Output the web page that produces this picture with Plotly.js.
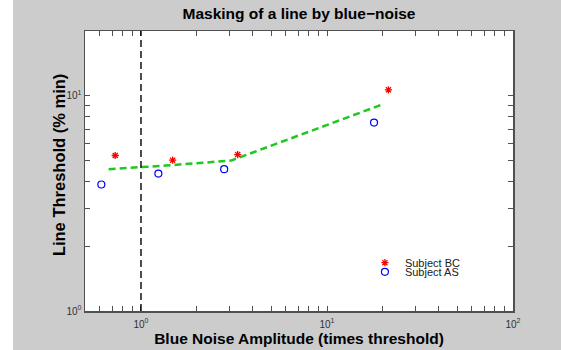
<!DOCTYPE html>
<html>
<head>
<meta charset="utf-8">
<script src="https://cdn.plot.ly/plotly-3.0.1.min.js"></script>
<style>
  html, body { margin: 0; padding: 0; background: #ffffff; }
  #chart { position: absolute; left: 13px; top: 0; width: 548px; height: 350px; }
</style>
</head>
<body>
<div id="chart"></div>
<script>
// ---- data ----
const bcX = [0.727, 1.48, 3.31, 21.4];     // Subject BC noise amplitude
const bcY = [5.28, 5.02, 5.33, 10.66];     // Subject BC line threshold
const asX = [0.612, 1.24, 2.80, 17.9];     // Subject AS noise amplitude
const asY = [3.87, 4.35, 4.56, 7.51];      // Subject AS line threshold
const fitX = [0.67, 1.36, 3.05, 19.6];     // fitted curve (mean amplitude)
const fitY = [4.56, 4.74, 5.00, 9.08];     // fitted threshold
const refX = 1;                            // detection threshold reference line

const xTickVals = [0.5,0.6,0.7,0.8,0.9,1,2,3,4,5,6,7,8,9,10,20,30,40,50,60,70,80,90,100];
const yTickVals = [1,2,3,4,5,6,7,8,9,10,20];
const decadeLabel = v => {
  const e = Math.round(Math.log10(v));
  return Math.abs(Math.log10(v) - e) < 1e-9 ? '10<sup>' + e + '</sup>' : '';
};

const FONT = 'Liberation Sans, Arial, Helvetica, sans-serif';

const traces = [
  {
    x: fitX, y: fitY, type: 'scatter', mode: 'lines',
    line: { color: '#1ec81e', width: 2.5, dash: '7px,4px' },
    showlegend: false, hoverinfo: 'skip'
  },
  {
    x: bcX, y: bcY, type: 'scatter', mode: 'markers', name: 'Subject BC',
    marker: { symbol: 'asterisk-open', size: 6, color: '#ff0000', line: { color: '#ff0000', width: 1.3 } },
    legend: 'legend'
  },
  {
    x: asX, y: asY, type: 'scatter', mode: 'markers', name: 'Subject AS',
    marker: { symbol: 'circle-open', size: 7, color: '#0000ff', line: { color: '#0000ff', width: 1.2 } },
    legend: 'legend2'
  }
];

const axisCommon = {
  type: 'log',
  showgrid: false, zeroline: false,
  showline: true, linecolor: '#505050', linewidth: 1.5,
  mirror: 'ticks', ticks: 'inside', ticklen: 5, tickwidth: 1, tickcolor: '#505050',
  tickfont: { family: FONT, size: 10, color: '#303030' }
};

const layout = {
  width: 548, height: 350,
  paper_bgcolor: '#cccccc', plot_bgcolor: '#ffffff',
  margin: { l: 72, r: 48, t: 31, b: 39 },
  title: {
    text: '<b>Masking of a line by blue\u2212noise</b>',
    font: { family: FONT, size: 15.5, color: '#000000' },
    x: 0.5, xref: 'paper', xanchor: 'center',
    y: 0.96, yref: 'container', yanchor: 'middle'
  },
  xaxis: Object.assign({}, axisCommon, {
    range: [Math.log10(0.5), 2],
    tickmode: 'array', tickvals: xTickVals, ticktext: xTickVals.map(decadeLabel),
    ticklabelstandoff: 3,
    title: { text: '<b>Blue Noise Amplitude (times threshold)</b>', font: { family: FONT, size: 15.5, color: '#000000' }, standoff: 4 }
  }),
  yaxis: Object.assign({}, axisCommon, {
    range: [0, Math.log10(20)],
    tickmode: 'array', tickvals: yTickVals, ticktext: yTickVals.map(decadeLabel)
  }),
  annotations: [{
    text: '<b>Line Threshold (% min)</b>',
    xref: 'paper', yref: 'paper', x: 0, y: 0.521, xshift: -26,
    xanchor: 'center', yanchor: 'middle', textangle: -90, showarrow: false,
    font: { family: FONT, size: 16.5, color: '#000000' }
  }],
  shapes: [{
    type: 'line', xref: 'x', yref: 'paper', x0: refX, x1: refX, y0: 0, y1: 1,
    line: { color: '#000000', width: 1.4, dash: '7px,4px' }
  }],
  legend: {
    x: 0.654, xanchor: 'left', y: 0.1725, yanchor: 'middle',
    bgcolor: 'rgba(0,0,0,0)', borderwidth: 0,
    font: { family: FONT, size: 11, color: '#202020' }
  },
  legend2: {
    x: 0.654, xanchor: 'left', y: 0.140, yanchor: 'middle',
    bgcolor: 'rgba(0,0,0,0)', borderwidth: 0,
    font: { family: FONT, size: 11, color: '#202020' }
  },
  showlegend: true
};

Plotly.newPlot('chart', traces, layout, { displayModeBar: false, staticPlot: true });
</script>
</body>
</html>
